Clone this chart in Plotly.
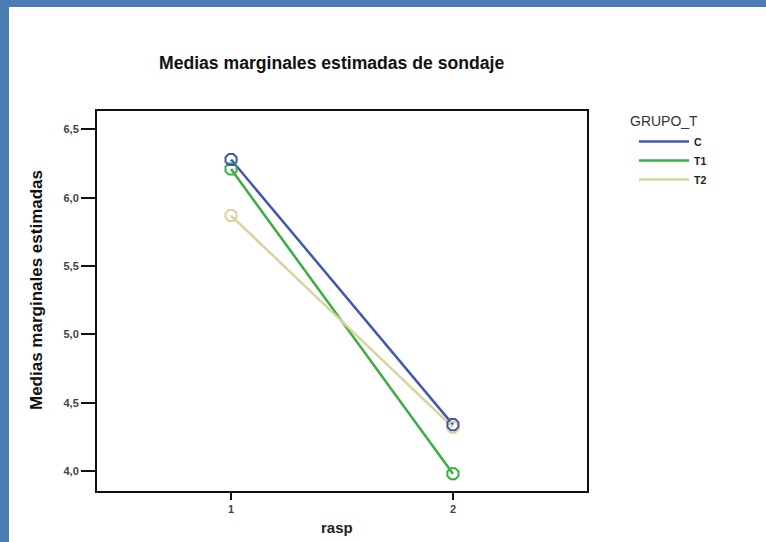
import plotly.graph_objects as go

# Data
rasp = [1, 2]
groups = ["C", "T1", "T2"]
values_C = [6.28, 4.34]
values_T1 = [6.21, 3.98]
values_T2 = [5.87, 4.32]
y_ticks = [4.0, 4.5, 5.0, 5.5, 6.0, 6.5]
x_ticks = [1, 2]
legend_title = "GRUPO_T"

series = {"C": values_C, "T1": values_T1, "T2": values_T2}
colors = {"C": "#4257ad", "T1": "#3aae40", "T2": "#d8d49c"}

FONT = "Liberation Sans, Arial, sans-serif"

fig = go.Figure()
for g in groups:
    fig.add_trace(go.Scatter(
        x=rasp, y=series[g], mode="lines", name=g,
        line=dict(color=colors[g], width=2.5),
    ))
for g in ["T2", "T1", "C"]:
    fig.add_trace(go.Scatter(
        x=rasp, y=series[g], mode="markers", showlegend=False,
        marker=dict(symbol="octagon-open", size=12, color=colors[g],
                    line=dict(color=colors[g], width=2)),
    ))

W, H = 766, 542
L, R, T, B = 97, 587, 111, 491
def px_x(p):
    return (p - L) / (R - L)
def px_y(p):
    return (B - p) / (B - T)

shapes = [
    dict(type="rect", xref="paper", yref="paper", layer="below",
         x0=px_x(0), x1=px_x(W), y0=px_y(0), y1=px_y(7),
         fillcolor="#4a7bb1", line=dict(width=0)),
    dict(type="rect", xref="paper", yref="paper", layer="below",
         x0=px_x(0), x1=px_x(9), y0=px_y(0), y1=px_y(H),
         fillcolor="#4a7bb1", line=dict(width=0)),
]

annotations = [
    dict(text="<b>Medias marginales estimadas de sondaje</b>", xref="paper", yref="paper",
         x=px_x(331), y=px_y(63), showarrow=False, xanchor="center", yanchor="middle",
         font=dict(family=FONT, size=17.6, color="#111111")),
    dict(text="<b>Medias marginales estimadas</b>", xref="paper", yref="paper",
         x=px_x(36), y=px_y(290), showarrow=False, xanchor="center", yanchor="middle",
         textangle=-90, font=dict(family=FONT, size=17, color="#111111")),
    dict(text="<b>rasp</b>", xref="paper", yref="paper",
         x=px_x(337), y=px_y(527), showarrow=False, xanchor="center", yanchor="middle",
         font=dict(family=FONT, size=15, color="#222222")),
    dict(text=legend_title, xref="paper", yref="paper",
         x=px_x(628), y=px_y(121), showarrow=False, xanchor="left", yanchor="middle",
         font=dict(family=FONT, size=14, color="#333333")),
]

fig.update_layout(
    width=W, height=H,
    margin=dict(l=L, r=W - R, t=T, b=H - B, pad=0),
    paper_bgcolor="#ffffff", plot_bgcolor="white",
    separators=",.",
    showlegend=True,
    legend=dict(
        x=px_x(634), y=px_y(127), xanchor="left", yanchor="top",
        font=dict(family=FONT, size=10.5, color="#222222", weight="bold"),
        bgcolor="rgba(0,0,0,0)", tracegroupgap=0, itemwidth=50,
        borderwidth=0,
    ),
    shapes=shapes,
    annotations=annotations,
    xaxis=dict(
        range=[0.396, 2.604], tickvals=x_ticks, ticktext=["<b>%d</b>" % v for v in x_ticks],
        showgrid=False, zeroline=False, showline=True, linecolor="#111111", linewidth=2,
        mirror=True, ticks="outside", ticklen=7, tickwidth=2, tickcolor="#111111",
        tickfont=dict(family=FONT, size=11, color="#444444"),
    ),
    yaxis=dict(
        range=[3.854, 6.635], tickvals=y_ticks,
        ticktext=["<b>%s</b>" % ("%.1f" % v).replace(".", ",") for v in y_ticks],
        showgrid=False, zeroline=False, showline=True, linecolor="#111111", linewidth=2,
        mirror=True, ticks="outside", ticklen=14, tickwidth=2, tickcolor="#111111",
        tickfont=dict(family=FONT, size=11, color="#444444"),
    ),
)

fig.write_html("out.html", config={"displayModeBar": False},
               post_script="document.body.style.margin='0px';document.body.style.overflow='hidden';")
